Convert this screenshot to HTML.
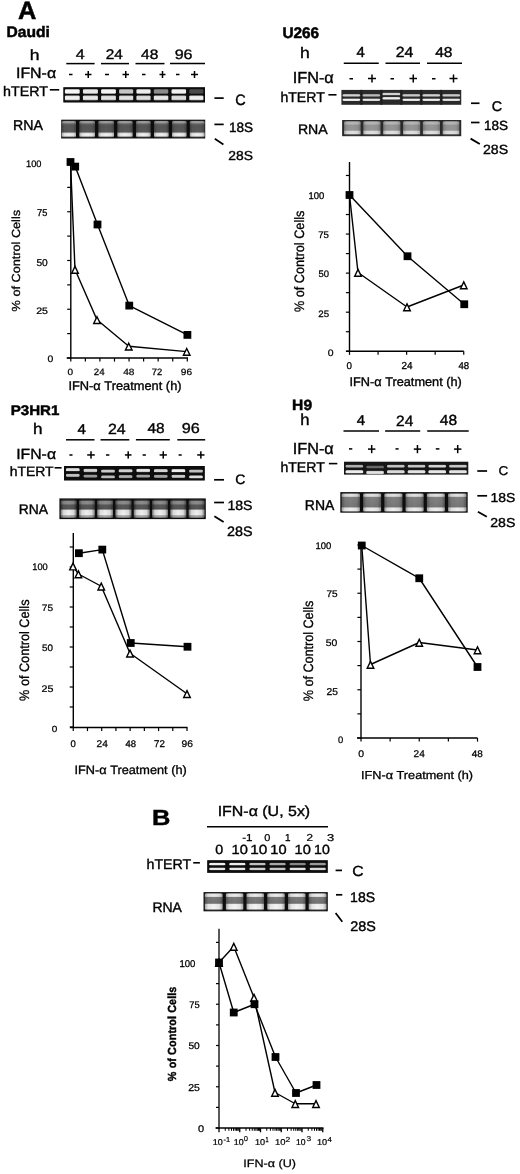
<!DOCTYPE html>
<html><head><meta charset="utf-8"><style>
html,body{margin:0;padding:0;background:#fff;}
svg{display:block;}
text{font-family:"Liberation Sans",sans-serif;fill:#000;stroke:#000;text-rendering:geometricPrecision;}
</style></head><body>
<svg width="520" height="1174" viewBox="0 0 520 1174">
<defs>
<linearGradient id="bandg" x1="0" y1="0" x2="0" y2="1"><stop offset="0" stop-color="#fff" stop-opacity="0.5"/><stop offset="0.25" stop-color="#fff"/><stop offset="0.75" stop-color="#fff"/><stop offset="1" stop-color="#fff" stop-opacity="0.5"/></linearGradient>
<linearGradient id="edgeg" x1="0" y1="0" x2="1" y2="0"><stop offset="0" stop-color="#000" stop-opacity="0.8"/><stop offset="0.18" stop-color="#000" stop-opacity="0.15"/><stop offset="0.5" stop-color="#000" stop-opacity="0"/><stop offset="0.82" stop-color="#000" stop-opacity="0.15"/><stop offset="1" stop-color="#000" stop-opacity="0.8"/></linearGradient>
<filter id="gblur" x="0" y="0" width="520" height="1174" filterUnits="userSpaceOnUse"><feGaussianBlur stdDeviation="0.3"/></filter>
<filter id="bl45" x="-5%" y="-20%" width="110%" height="140%"><feGaussianBlur stdDeviation="0.45"/></filter>
<filter id="bl60" x="-5%" y="-20%" width="110%" height="140%"><feGaussianBlur stdDeviation="0.6"/></filter>
</defs>
<rect width="520" height="1174" fill="#fff"/>
<g filter="url(#gblur)">
<line x1="66.30" y1="63.60" x2="94.60" y2="63.60" stroke="#000" stroke-width="1.5"/>
<line x1="101.00" y1="63.60" x2="129.00" y2="63.60" stroke="#000" stroke-width="1.5"/>
<line x1="135.50" y1="63.60" x2="164.50" y2="63.60" stroke="#000" stroke-width="1.5"/>
<line x1="170.00" y1="63.60" x2="205.00" y2="63.60" stroke="#000" stroke-width="1.5"/>
<rect x="69.00" y="73.75" width="3.50" height="1.5" fill="#000"/>
<rect x="85.00" y="73.75" width="6.50" height="1.5" fill="#000"/>
<rect x="87.50" y="71.00" width="1.5" height="7.00" fill="#000"/>
<rect x="105.00" y="73.75" width="4.00" height="1.5" fill="#000"/>
<rect x="122.50" y="73.75" width="6.50" height="1.5" fill="#000"/>
<rect x="125.00" y="71.00" width="1.5" height="7.00" fill="#000"/>
<rect x="142.00" y="73.75" width="3.50" height="1.5" fill="#000"/>
<rect x="159.50" y="73.75" width="6.00" height="1.5" fill="#000"/>
<rect x="161.75" y="71.00" width="1.5" height="7.00" fill="#000"/>
<rect x="176.00" y="73.75" width="3.50" height="1.5" fill="#000"/>
<rect x="191.00" y="73.75" width="7.00" height="1.5" fill="#000"/>
<rect x="193.75" y="71.00" width="1.5" height="7.00" fill="#000"/>
<line x1="49.80" y1="89.80" x2="59.20" y2="89.80" stroke="#000" stroke-width="1.6"/>
<rect x="63.30" y="87.20" width="141.70" height="15.30" fill="#080808"/>
<g filter="url(#bl45)">
<rect x="64.90" y="88.88" width="14.80" height="5.05" rx="1.6" ry="1.2" fill="url(#bandg)" opacity="0.961"/>
<rect x="64.90" y="95.31" width="14.80" height="5.20" rx="1.6" ry="1.2" fill="url(#bandg)" opacity="0.941"/>
<rect x="82.90" y="88.88" width="15.00" height="5.05" rx="1.6" ry="1.2" fill="url(#bandg)" opacity="0.902"/>
<rect x="82.90" y="95.31" width="15.00" height="5.20" rx="1.6" ry="1.2" fill="url(#bandg)" opacity="0.902"/>
<rect x="101.10" y="88.88" width="14.80" height="5.05" rx="1.6" ry="1.2" fill="url(#bandg)" opacity="0.961"/>
<rect x="101.10" y="95.31" width="14.80" height="5.20" rx="1.6" ry="1.2" fill="url(#bandg)" opacity="0.882"/>
<rect x="119.10" y="88.88" width="14.10" height="5.05" rx="1.6" ry="1.2" fill="url(#bandg)" opacity="0.765"/>
<rect x="119.10" y="95.31" width="14.10" height="5.20" rx="1.6" ry="1.2" fill="url(#bandg)" opacity="0.882"/>
<rect x="136.40" y="88.88" width="14.20" height="5.05" rx="1.6" ry="1.2" fill="url(#bandg)" opacity="0.922"/>
<rect x="136.40" y="95.31" width="14.20" height="5.20" rx="1.6" ry="1.2" fill="url(#bandg)" opacity="0.863"/>
<rect x="153.80" y="88.88" width="14.50" height="5.05" rx="1.6" ry="1.2" fill="url(#bandg)" opacity="0.529"/>
<rect x="153.80" y="95.31" width="14.50" height="5.20" rx="1.6" ry="1.2" fill="url(#bandg)" opacity="0.902"/>
<rect x="171.50" y="88.88" width="14.60" height="5.05" rx="1.6" ry="1.2" fill="url(#bandg)" opacity="0.941"/>
<rect x="171.50" y="95.31" width="14.60" height="5.20" rx="1.6" ry="1.2" fill="url(#bandg)" opacity="0.863"/>
<rect x="189.30" y="88.88" width="14.10" height="5.05" rx="1.6" ry="1.2" fill="url(#bandg)" opacity="0.275"/>
<rect x="189.30" y="95.31" width="14.10" height="5.20" rx="1.6" ry="1.2" fill="url(#bandg)" opacity="0.941"/>
</g>
<line x1="214.40" y1="98.10" x2="223.70" y2="98.10" stroke="#000" stroke-width="1.7"/>
<defs><linearGradient id="rg1" gradientUnits="userSpaceOnUse" x1="0" y1="120.70" x2="0" y2="137.50"><stop offset="0.0060" stop-color="rgb(70,70,70)"/><stop offset="0.0357" stop-color="rgb(155,155,155)"/><stop offset="0.1369" stop-color="rgb(155,155,155)"/><stop offset="0.1845" stop-color="rgb(100,100,100)"/><stop offset="0.3155" stop-color="rgb(85,85,85)"/><stop offset="0.6726" stop-color="rgb(90,90,90)"/><stop offset="0.7440" stop-color="rgb(220,220,220)"/><stop offset="0.7917" stop-color="rgb(240,240,240)"/><stop offset="0.9107" stop-color="rgb(235,235,235)"/><stop offset="0.9583" stop-color="rgb(130,130,130)"/><stop offset="1.0060" stop-color="rgb(70,70,70)"/></linearGradient></defs>
<rect x="61.20" y="119.70" width="144.00" height="18.80" fill="#101010"/>
<g filter="url(#bl45)">
<rect x="61.80" y="120.70" width="14.20" height="16.80" rx="1.5" fill="url(#rg1)" opacity="1"/>
<rect x="61.80" y="120.70" width="14.20" height="16.80" rx="1.5" fill="url(#edgeg)" opacity="0.35"/>
<rect x="79.40" y="120.70" width="15.60" height="16.80" rx="1.5" fill="url(#rg1)" opacity="1"/>
<rect x="79.40" y="120.70" width="15.60" height="16.80" rx="1.5" fill="url(#edgeg)" opacity="0.35"/>
<rect x="98.40" y="120.70" width="15.60" height="16.80" rx="1.5" fill="url(#rg1)" opacity="1"/>
<rect x="98.40" y="120.70" width="15.60" height="16.80" rx="1.5" fill="url(#edgeg)" opacity="0.35"/>
<rect x="117.40" y="120.70" width="15.20" height="16.80" rx="1.5" fill="url(#rg1)" opacity="1"/>
<rect x="117.40" y="120.70" width="15.20" height="16.80" rx="1.5" fill="url(#edgeg)" opacity="0.35"/>
<rect x="136.00" y="120.70" width="14.60" height="16.80" rx="1.5" fill="url(#rg1)" opacity="1"/>
<rect x="136.00" y="120.70" width="14.60" height="16.80" rx="1.5" fill="url(#edgeg)" opacity="0.35"/>
<rect x="154.00" y="120.70" width="14.60" height="16.80" rx="1.5" fill="url(#rg1)" opacity="1"/>
<rect x="154.00" y="120.70" width="14.60" height="16.80" rx="1.5" fill="url(#edgeg)" opacity="0.35"/>
<rect x="172.00" y="120.70" width="14.50" height="16.80" rx="1.5" fill="url(#rg1)" opacity="1"/>
<rect x="172.00" y="120.70" width="14.50" height="16.80" rx="1.5" fill="url(#edgeg)" opacity="0.35"/>
<rect x="189.90" y="120.70" width="14.70" height="16.80" rx="1.5" fill="url(#rg1)" opacity="1"/>
<rect x="189.90" y="120.70" width="14.70" height="16.80" rx="1.5" fill="url(#edgeg)" opacity="0.35"/>
</g>
<line x1="214.40" y1="124.40" x2="223.70" y2="124.40" stroke="#000" stroke-width="1.7"/>
<line x1="214.80" y1="138.80" x2="223.40" y2="144.40" stroke="#000" stroke-width="1.8"/>
<line x1="70.80" y1="160.00" x2="70.80" y2="358.60" stroke="#000" stroke-width="1.4"/>
<line x1="66.70" y1="358.00" x2="188.00" y2="358.00" stroke="#000" stroke-width="1.4"/>
<line x1="67.20" y1="358.00" x2="70.80" y2="358.00" stroke="#000" stroke-width="1.2"/>
<line x1="67.20" y1="333.62" x2="70.80" y2="333.62" stroke="#000" stroke-width="1.2"/>
<line x1="67.20" y1="309.25" x2="70.80" y2="309.25" stroke="#000" stroke-width="1.2"/>
<line x1="67.20" y1="284.88" x2="70.80" y2="284.88" stroke="#000" stroke-width="1.2"/>
<line x1="67.20" y1="260.50" x2="70.80" y2="260.50" stroke="#000" stroke-width="1.2"/>
<line x1="67.20" y1="236.12" x2="70.80" y2="236.12" stroke="#000" stroke-width="1.2"/>
<line x1="67.20" y1="211.75" x2="70.80" y2="211.75" stroke="#000" stroke-width="1.2"/>
<line x1="67.20" y1="187.38" x2="70.80" y2="187.38" stroke="#000" stroke-width="1.2"/>
<line x1="67.20" y1="163.00" x2="70.80" y2="163.00" stroke="#000" stroke-width="1.2"/>
<line x1="70.80" y1="358.00" x2="70.80" y2="361.60" stroke="#000" stroke-width="1.2"/>
<line x1="85.36" y1="358.00" x2="85.36" y2="361.60" stroke="#000" stroke-width="1.2"/>
<line x1="99.92" y1="358.00" x2="99.92" y2="361.60" stroke="#000" stroke-width="1.2"/>
<line x1="114.49" y1="358.00" x2="114.49" y2="361.60" stroke="#000" stroke-width="1.2"/>
<line x1="129.05" y1="358.00" x2="129.05" y2="361.60" stroke="#000" stroke-width="1.2"/>
<line x1="143.61" y1="358.00" x2="143.61" y2="361.60" stroke="#000" stroke-width="1.2"/>
<line x1="158.17" y1="358.00" x2="158.17" y2="361.60" stroke="#000" stroke-width="1.2"/>
<line x1="172.73" y1="358.00" x2="172.73" y2="361.60" stroke="#000" stroke-width="1.2"/>
<line x1="187.30" y1="358.00" x2="187.30" y2="361.60" stroke="#000" stroke-width="1.2"/>
<polyline fill="none" stroke="#000" stroke-width="1.4" stroke-linejoin="round" points="70.50,162.00 75.20,166.60 97.50,224.50 129.25,305.60 187.40,334.90"/>
<polyline fill="none" stroke="#000" stroke-width="1.4" stroke-linejoin="round" points="70.50,162.00 75.00,269.50 97.00,319.80 128.75,346.30 186.70,351.60"/>
<path d="M75.00,266.40 L78.30,273.20 L71.70,273.20 Z" fill="#fff" stroke="#000" stroke-width="1.4" stroke-linejoin="miter"/>
<path d="M97.00,316.70 L100.30,323.50 L93.70,323.50 Z" fill="#fff" stroke="#000" stroke-width="1.4" stroke-linejoin="miter"/>
<path d="M128.75,343.20 L132.05,350.00 L125.45,350.00 Z" fill="#fff" stroke="#000" stroke-width="1.4" stroke-linejoin="miter"/>
<path d="M186.70,348.50 L190.00,355.30 L183.40,355.30 Z" fill="#fff" stroke="#000" stroke-width="1.4" stroke-linejoin="miter"/>
<rect x="66.60" y="158.10" width="7.8" height="7.8" fill="#000"/>
<rect x="71.30" y="162.70" width="7.8" height="7.8" fill="#000"/>
<rect x="93.60" y="220.60" width="7.8" height="7.8" fill="#000"/>
<rect x="125.35" y="301.70" width="7.8" height="7.8" fill="#000"/>
<rect x="183.50" y="331.00" width="7.8" height="7.8" fill="#000"/>
<line x1="343.75" y1="63.20" x2="378.75" y2="63.20" stroke="#000" stroke-width="1.5"/>
<line x1="385.50" y1="63.20" x2="420.00" y2="63.20" stroke="#000" stroke-width="1.5"/>
<line x1="427.00" y1="63.20" x2="462.00" y2="63.20" stroke="#000" stroke-width="1.5"/>
<rect x="349.50" y="78.00" width="3.50" height="1.5" fill="#000"/>
<rect x="368.00" y="77.75" width="8.00" height="1.5" fill="#000"/>
<rect x="371.25" y="74.50" width="1.5" height="8.00" fill="#000"/>
<rect x="390.50" y="78.00" width="3.50" height="1.5" fill="#000"/>
<rect x="409.50" y="77.75" width="7.50" height="1.5" fill="#000"/>
<rect x="412.50" y="74.50" width="1.5" height="8.00" fill="#000"/>
<rect x="432.00" y="78.00" width="3.50" height="1.5" fill="#000"/>
<rect x="449.50" y="77.75" width="8.00" height="1.5" fill="#000"/>
<rect x="452.75" y="74.50" width="1.5" height="8.00" fill="#000"/>
<line x1="328.40" y1="94.80" x2="336.50" y2="94.80" stroke="#000" stroke-width="1.6"/>
<rect x="341.40" y="89.90" width="119.85" height="14.90" fill="#2c2c2c"/>
<rect x="360.48" y="89.90" width="1.8" height="14.90" fill="#1c1c1c"/>
<rect x="380.45" y="89.90" width="1.8" height="14.90" fill="#1c1c1c"/>
<rect x="400.43" y="89.90" width="1.8" height="14.90" fill="#1c1c1c"/>
<rect x="420.40" y="89.90" width="1.8" height="14.90" fill="#1c1c1c"/>
<rect x="440.38" y="89.90" width="1.8" height="14.90" fill="#1c1c1c"/>
<g filter="url(#bl45)">
<rect x="342.60" y="94.07" width="17.58" height="2.68" rx="1.6" ry="1.2" fill="url(#bandg)" opacity="0.784"/>
<rect x="342.60" y="98.39" width="17.58" height="2.68" rx="1.6" ry="1.2" fill="url(#bandg)" opacity="0.941"/>
<rect x="362.57" y="94.07" width="17.57" height="2.68" rx="1.6" ry="1.2" fill="url(#bandg)" opacity="0.667"/>
<rect x="362.57" y="98.39" width="17.57" height="2.68" rx="1.6" ry="1.2" fill="url(#bandg)" opacity="0.882"/>
<rect x="382.55" y="92.67" width="17.58" height="2.68" rx="1.6" ry="1.2" fill="url(#bandg)" opacity="0.784"/>
<rect x="382.55" y="96.99" width="17.58" height="2.68" rx="1.6" ry="1.2" fill="url(#bandg)" opacity="0.922"/>
<rect x="402.52" y="94.07" width="17.58" height="2.68" rx="1.6" ry="1.2" fill="url(#bandg)" opacity="0.745"/>
<rect x="402.52" y="98.39" width="17.58" height="2.68" rx="1.6" ry="1.2" fill="url(#bandg)" opacity="0.922"/>
<rect x="422.50" y="94.07" width="17.57" height="2.68" rx="1.6" ry="1.2" fill="url(#bandg)" opacity="0.784"/>
<rect x="422.50" y="98.39" width="17.57" height="2.68" rx="1.6" ry="1.2" fill="url(#bandg)" opacity="0.922"/>
<rect x="442.47" y="94.07" width="17.58" height="2.68" rx="1.6" ry="1.2" fill="url(#bandg)" opacity="0.745"/>
<rect x="442.47" y="98.39" width="17.58" height="2.68" rx="1.6" ry="1.2" fill="url(#bandg)" opacity="0.882"/>
</g>
<line x1="471.00" y1="103.25" x2="479.50" y2="103.25" stroke="#000" stroke-width="1.7"/>
<defs><linearGradient id="rg2" gradientUnits="userSpaceOnUse" x1="0" y1="121.00" x2="0" y2="135.20"><stop offset="0.0000" stop-color="rgb(80,80,80)"/><stop offset="0.0563" stop-color="rgb(180,180,180)"/><stop offset="0.2254" stop-color="rgb(185,185,185)"/><stop offset="0.2676" stop-color="rgb(150,150,150)"/><stop offset="0.6549" stop-color="rgb(150,150,150)"/><stop offset="0.7042" stop-color="rgb(220,220,220)"/><stop offset="0.8873" stop-color="rgb(225,225,225)"/><stop offset="0.9437" stop-color="rgb(110,110,110)"/><stop offset="1.0211" stop-color="rgb(80,80,80)"/></linearGradient></defs>
<rect x="342.10" y="120.00" width="119.15" height="16.20" fill="#2c2c2c"/>
<g filter="url(#bl45)">
<rect x="344.10" y="121.00" width="16.46" height="14.20" rx="1.5" fill="url(#rg2)" opacity="1"/>
<rect x="344.10" y="121.00" width="16.46" height="14.20" rx="1.5" fill="url(#edgeg)" opacity="0.3"/>
<rect x="363.36" y="121.00" width="17.06" height="14.20" rx="1.5" fill="url(#rg2)" opacity="1"/>
<rect x="363.36" y="121.00" width="17.06" height="14.20" rx="1.5" fill="url(#edgeg)" opacity="0.3"/>
<rect x="383.22" y="121.00" width="17.06" height="14.20" rx="1.5" fill="url(#rg2)" opacity="1"/>
<rect x="383.22" y="121.00" width="17.06" height="14.20" rx="1.5" fill="url(#edgeg)" opacity="0.3"/>
<rect x="403.07" y="121.00" width="17.06" height="14.20" rx="1.5" fill="url(#rg2)" opacity="1"/>
<rect x="403.07" y="121.00" width="17.06" height="14.20" rx="1.5" fill="url(#edgeg)" opacity="0.3"/>
<rect x="422.93" y="121.00" width="17.06" height="14.20" rx="1.5" fill="url(#rg2)" opacity="1"/>
<rect x="422.93" y="121.00" width="17.06" height="14.20" rx="1.5" fill="url(#edgeg)" opacity="0.3"/>
<rect x="442.79" y="121.00" width="16.46" height="14.20" rx="1.5" fill="url(#rg2)" opacity="1"/>
<rect x="442.79" y="121.00" width="16.46" height="14.20" rx="1.5" fill="url(#edgeg)" opacity="0.3"/>
</g>
<line x1="471.00" y1="122.50" x2="479.50" y2="122.50" stroke="#000" stroke-width="1.7"/>
<line x1="470.60" y1="138.60" x2="479.80" y2="144.00" stroke="#000" stroke-width="1.8"/>
<line x1="349.50" y1="162.00" x2="349.50" y2="351.85" stroke="#000" stroke-width="1.4"/>
<line x1="346.00" y1="351.25" x2="463.75" y2="351.25" stroke="#000" stroke-width="1.4"/>
<line x1="345.90" y1="351.25" x2="349.50" y2="351.25" stroke="#000" stroke-width="1.2"/>
<line x1="345.90" y1="331.72" x2="349.50" y2="331.72" stroke="#000" stroke-width="1.2"/>
<line x1="345.90" y1="312.19" x2="349.50" y2="312.19" stroke="#000" stroke-width="1.2"/>
<line x1="345.90" y1="292.66" x2="349.50" y2="292.66" stroke="#000" stroke-width="1.2"/>
<line x1="345.90" y1="273.12" x2="349.50" y2="273.12" stroke="#000" stroke-width="1.2"/>
<line x1="345.90" y1="253.59" x2="349.50" y2="253.59" stroke="#000" stroke-width="1.2"/>
<line x1="345.90" y1="234.06" x2="349.50" y2="234.06" stroke="#000" stroke-width="1.2"/>
<line x1="345.90" y1="214.53" x2="349.50" y2="214.53" stroke="#000" stroke-width="1.2"/>
<line x1="345.90" y1="195.00" x2="349.50" y2="195.00" stroke="#000" stroke-width="1.2"/>
<line x1="345.90" y1="175.47" x2="349.50" y2="175.47" stroke="#000" stroke-width="1.2"/>
<line x1="349.50" y1="351.25" x2="349.50" y2="354.85" stroke="#000" stroke-width="1.2"/>
<line x1="378.06" y1="351.25" x2="378.06" y2="354.85" stroke="#000" stroke-width="1.2"/>
<line x1="406.62" y1="351.25" x2="406.62" y2="354.85" stroke="#000" stroke-width="1.2"/>
<line x1="435.18" y1="351.25" x2="435.18" y2="354.85" stroke="#000" stroke-width="1.2"/>
<line x1="463.74" y1="351.25" x2="463.74" y2="354.85" stroke="#000" stroke-width="1.2"/>
<polyline fill="none" stroke="#000" stroke-width="1.4" stroke-linejoin="round" points="349.50,195.00 407.50,256.25 464.25,304.25"/>
<polyline fill="none" stroke="#000" stroke-width="1.4" stroke-linejoin="round" points="349.50,195.00 358.00,272.50 407.00,307.00 463.75,285.00"/>
<path d="M358.00,269.40 L361.30,276.20 L354.70,276.20 Z" fill="#fff" stroke="#000" stroke-width="1.4" stroke-linejoin="miter"/>
<path d="M407.00,303.90 L410.30,310.70 L403.70,310.70 Z" fill="#fff" stroke="#000" stroke-width="1.4" stroke-linejoin="miter"/>
<path d="M463.75,281.90 L467.05,288.70 L460.45,288.70 Z" fill="#fff" stroke="#000" stroke-width="1.4" stroke-linejoin="miter"/>
<rect x="345.60" y="191.10" width="7.8" height="7.8" fill="#000"/>
<rect x="403.60" y="252.35" width="7.8" height="7.8" fill="#000"/>
<rect x="460.35" y="300.35" width="7.8" height="7.8" fill="#000"/>
<line x1="66.00" y1="439.80" x2="94.50" y2="439.80" stroke="#000" stroke-width="1.5"/>
<line x1="100.50" y1="439.80" x2="129.30" y2="439.80" stroke="#000" stroke-width="1.5"/>
<line x1="135.90" y1="439.80" x2="169.80" y2="439.80" stroke="#000" stroke-width="1.5"/>
<line x1="177.30" y1="439.80" x2="205.20" y2="439.80" stroke="#000" stroke-width="1.5"/>
<rect x="69.40" y="454.25" width="3.10" height="1.5" fill="#000"/>
<rect x="87.20" y="454.20" width="7.60" height="1.5" fill="#000"/>
<rect x="90.25" y="451.30" width="1.5" height="7.30" fill="#000"/>
<rect x="106.00" y="454.25" width="3.40" height="1.5" fill="#000"/>
<rect x="124.90" y="454.20" width="6.60" height="1.5" fill="#000"/>
<rect x="127.45" y="451.30" width="1.5" height="7.30" fill="#000"/>
<rect x="142.60" y="454.25" width="3.30" height="1.5" fill="#000"/>
<rect x="159.60" y="454.20" width="7.30" height="1.5" fill="#000"/>
<rect x="162.50" y="451.30" width="1.5" height="7.30" fill="#000"/>
<rect x="178.60" y="454.25" width="3.10" height="1.5" fill="#000"/>
<rect x="197.20" y="454.20" width="7.30" height="1.5" fill="#000"/>
<rect x="200.10" y="451.30" width="1.5" height="7.30" fill="#000"/>
<line x1="54.60" y1="467.80" x2="61.60" y2="467.80" stroke="#000" stroke-width="1.6"/>
<rect x="64.00" y="466.00" width="140.80" height="14.50" fill="#080808"/>
<g filter="url(#bl45)">
<rect x="66.00" y="467.88" width="13.60" height="3.48" rx="1.6" ry="1.2" fill="url(#bandg)" opacity="0.863"/>
<rect x="66.00" y="473.69" width="13.60" height="3.33" rx="1.6" ry="1.2" fill="url(#bandg)" opacity="0.745"/>
<rect x="83.60" y="468.69" width="13.60" height="3.48" rx="1.6" ry="1.2" fill="url(#bandg)" opacity="0.824"/>
<rect x="83.60" y="474.49" width="13.60" height="3.33" rx="1.6" ry="1.2" fill="url(#bandg)" opacity="0.588"/>
<rect x="101.20" y="469.38" width="13.60" height="3.48" rx="1.6" ry="1.2" fill="url(#bandg)" opacity="0.784"/>
<rect x="101.20" y="475.19" width="13.60" height="3.33" rx="1.6" ry="1.2" fill="url(#bandg)" opacity="0.725"/>
<rect x="118.80" y="469.08" width="13.60" height="3.48" rx="1.6" ry="1.2" fill="url(#bandg)" opacity="0.804"/>
<rect x="118.80" y="474.88" width="13.60" height="3.33" rx="1.6" ry="1.2" fill="url(#bandg)" opacity="0.667"/>
<rect x="136.40" y="468.69" width="13.60" height="3.48" rx="1.6" ry="1.2" fill="url(#bandg)" opacity="0.902"/>
<rect x="136.40" y="474.49" width="13.60" height="3.33" rx="1.6" ry="1.2" fill="url(#bandg)" opacity="0.627"/>
<rect x="154.00" y="468.88" width="13.60" height="3.48" rx="1.6" ry="1.2" fill="url(#bandg)" opacity="0.824"/>
<rect x="154.00" y="474.69" width="13.60" height="3.33" rx="1.6" ry="1.2" fill="url(#bandg)" opacity="0.627"/>
<rect x="171.60" y="468.88" width="13.60" height="3.48" rx="1.6" ry="1.2" fill="url(#bandg)" opacity="0.922"/>
<rect x="171.60" y="474.69" width="13.60" height="3.33" rx="1.6" ry="1.2" fill="url(#bandg)" opacity="0.784"/>
<rect x="189.20" y="469.38" width="13.60" height="3.48" rx="1.6" ry="1.2" fill="url(#bandg)" opacity="0.745"/>
<rect x="189.20" y="475.19" width="13.60" height="3.33" rx="1.6" ry="1.2" fill="url(#bandg)" opacity="0.863"/>
</g>
<line x1="214.10" y1="479.80" x2="224.00" y2="479.80" stroke="#000" stroke-width="1.7"/>
<defs><linearGradient id="rg3" gradientUnits="userSpaceOnUse" x1="0" y1="499.40" x2="0" y2="518.10"><stop offset="0.0428" stop-color="rgb(50,50,50)"/><stop offset="0.1070" stop-color="rgb(140,140,140)"/><stop offset="0.2353" stop-color="rgb(140,140,140)"/><stop offset="0.2995" stop-color="rgb(90,90,90)"/><stop offset="0.5134" stop-color="rgb(85,85,85)"/><stop offset="0.5775" stop-color="rgb(235,235,235)"/><stop offset="0.8128" stop-color="rgb(240,240,240)"/><stop offset="0.8663" stop-color="rgb(175,175,175)"/><stop offset="0.9519" stop-color="rgb(160,160,160)"/><stop offset="0.9947" stop-color="rgb(60,60,60)"/></linearGradient></defs>
<rect x="59.40" y="498.40" width="146.40" height="20.70" fill="#101010"/>
<g filter="url(#bl45)">
<rect x="60.80" y="499.40" width="15.60" height="18.70" rx="1.5" fill="url(#rg3)" opacity="1"/>
<rect x="60.80" y="499.40" width="15.60" height="18.70" rx="1.5" fill="url(#edgeg)" opacity="0.6"/>
<rect x="79.00" y="499.40" width="15.70" height="18.70" rx="1.5" fill="url(#rg3)" opacity="1"/>
<rect x="79.00" y="499.40" width="15.70" height="18.70" rx="1.5" fill="url(#edgeg)" opacity="0.6"/>
<rect x="97.30" y="499.40" width="15.70" height="18.70" rx="1.5" fill="url(#rg3)" opacity="1"/>
<rect x="97.30" y="499.40" width="15.70" height="18.70" rx="1.5" fill="url(#edgeg)" opacity="0.6"/>
<rect x="115.60" y="499.40" width="15.70" height="18.70" rx="1.5" fill="url(#rg3)" opacity="1"/>
<rect x="115.60" y="499.40" width="15.70" height="18.70" rx="1.5" fill="url(#edgeg)" opacity="0.6"/>
<rect x="133.90" y="499.40" width="15.70" height="18.70" rx="1.5" fill="url(#rg3)" opacity="1"/>
<rect x="133.90" y="499.40" width="15.70" height="18.70" rx="1.5" fill="url(#edgeg)" opacity="0.6"/>
<rect x="152.20" y="499.40" width="15.70" height="18.70" rx="1.5" fill="url(#rg3)" opacity="1"/>
<rect x="152.20" y="499.40" width="15.70" height="18.70" rx="1.5" fill="url(#edgeg)" opacity="0.6"/>
<rect x="170.50" y="499.40" width="15.70" height="18.70" rx="1.5" fill="url(#rg3)" opacity="1"/>
<rect x="170.50" y="499.40" width="15.70" height="18.70" rx="1.5" fill="url(#edgeg)" opacity="0.6"/>
<rect x="188.80" y="499.40" width="15.60" height="18.70" rx="1.5" fill="url(#rg3)" opacity="1"/>
<rect x="188.80" y="499.40" width="15.60" height="18.70" rx="1.5" fill="url(#edgeg)" opacity="0.6"/>
</g>
<line x1="214.10" y1="502.50" x2="224.00" y2="502.50" stroke="#000" stroke-width="1.7"/>
<line x1="214.40" y1="516.30" x2="223.60" y2="522.10" stroke="#000" stroke-width="1.8"/>
<line x1="73.30" y1="532.90" x2="73.30" y2="728.10" stroke="#000" stroke-width="1.4"/>
<line x1="70.00" y1="727.50" x2="187.50" y2="727.50" stroke="#000" stroke-width="1.4"/>
<line x1="69.70" y1="727.00" x2="73.30" y2="727.00" stroke="#000" stroke-width="1.2"/>
<line x1="69.70" y1="707.00" x2="73.30" y2="707.00" stroke="#000" stroke-width="1.2"/>
<line x1="69.70" y1="687.00" x2="73.30" y2="687.00" stroke="#000" stroke-width="1.2"/>
<line x1="69.70" y1="667.00" x2="73.30" y2="667.00" stroke="#000" stroke-width="1.2"/>
<line x1="69.70" y1="647.00" x2="73.30" y2="647.00" stroke="#000" stroke-width="1.2"/>
<line x1="69.70" y1="627.00" x2="73.30" y2="627.00" stroke="#000" stroke-width="1.2"/>
<line x1="69.70" y1="607.00" x2="73.30" y2="607.00" stroke="#000" stroke-width="1.2"/>
<line x1="69.70" y1="587.00" x2="73.30" y2="587.00" stroke="#000" stroke-width="1.2"/>
<line x1="69.70" y1="567.00" x2="73.30" y2="567.00" stroke="#000" stroke-width="1.2"/>
<line x1="69.70" y1="547.00" x2="73.30" y2="547.00" stroke="#000" stroke-width="1.2"/>
<line x1="73.25" y1="727.50" x2="73.25" y2="731.10" stroke="#000" stroke-width="1.2"/>
<line x1="87.47" y1="727.50" x2="87.47" y2="731.10" stroke="#000" stroke-width="1.2"/>
<line x1="101.69" y1="727.50" x2="101.69" y2="731.10" stroke="#000" stroke-width="1.2"/>
<line x1="115.91" y1="727.50" x2="115.91" y2="731.10" stroke="#000" stroke-width="1.2"/>
<line x1="130.13" y1="727.50" x2="130.13" y2="731.10" stroke="#000" stroke-width="1.2"/>
<line x1="144.35" y1="727.50" x2="144.35" y2="731.10" stroke="#000" stroke-width="1.2"/>
<line x1="158.57" y1="727.50" x2="158.57" y2="731.10" stroke="#000" stroke-width="1.2"/>
<line x1="172.79" y1="727.50" x2="172.79" y2="731.10" stroke="#000" stroke-width="1.2"/>
<line x1="187.01" y1="727.50" x2="187.01" y2="731.10" stroke="#000" stroke-width="1.2"/>
<polyline fill="none" stroke="#000" stroke-width="1.4" stroke-linejoin="round" points="78.90,553.20 102.30,549.60 130.75,643.00 187.50,646.75"/>
<polyline fill="none" stroke="#000" stroke-width="1.4" stroke-linejoin="round" points="73.00,566.20 78.40,574.00 101.25,586.25 130.00,653.25 187.00,693.75"/>
<path d="M73.00,563.10 L76.30,569.90 L69.70,569.90 Z" fill="#fff" stroke="#000" stroke-width="1.4" stroke-linejoin="miter"/>
<path d="M78.40,570.90 L81.70,577.70 L75.10,577.70 Z" fill="#fff" stroke="#000" stroke-width="1.4" stroke-linejoin="miter"/>
<path d="M101.25,583.15 L104.55,589.95 L97.95,589.95 Z" fill="#fff" stroke="#000" stroke-width="1.4" stroke-linejoin="miter"/>
<path d="M130.00,650.15 L133.30,656.95 L126.70,656.95 Z" fill="#fff" stroke="#000" stroke-width="1.4" stroke-linejoin="miter"/>
<path d="M187.00,690.65 L190.30,697.45 L183.70,697.45 Z" fill="#fff" stroke="#000" stroke-width="1.4" stroke-linejoin="miter"/>
<rect x="75.00" y="549.30" width="7.8" height="7.8" fill="#000"/>
<rect x="98.40" y="545.70" width="7.8" height="7.8" fill="#000"/>
<rect x="126.85" y="639.10" width="7.8" height="7.8" fill="#000"/>
<rect x="183.60" y="642.85" width="7.8" height="7.8" fill="#000"/>
<line x1="343.50" y1="430.90" x2="379.00" y2="430.90" stroke="#000" stroke-width="1.5"/>
<line x1="385.10" y1="430.90" x2="420.20" y2="430.90" stroke="#000" stroke-width="1.5"/>
<line x1="427.20" y1="430.90" x2="468.70" y2="430.90" stroke="#000" stroke-width="1.5"/>
<rect x="349.00" y="448.15" width="3.30" height="1.5" fill="#000"/>
<rect x="368.00" y="448.35" width="7.40" height="1.5" fill="#000"/>
<rect x="370.95" y="445.00" width="1.5" height="8.20" fill="#000"/>
<rect x="395.50" y="448.15" width="3.10" height="1.5" fill="#000"/>
<rect x="413.80" y="448.35" width="7.30" height="1.5" fill="#000"/>
<rect x="416.70" y="445.00" width="1.5" height="8.20" fill="#000"/>
<rect x="435.80" y="448.15" width="3.60" height="1.5" fill="#000"/>
<rect x="454.00" y="448.35" width="7.40" height="1.5" fill="#000"/>
<rect x="456.95" y="445.00" width="1.5" height="8.20" fill="#000"/>
<line x1="328.90" y1="463.60" x2="337.30" y2="463.60" stroke="#000" stroke-width="1.6"/>
<rect x="344.00" y="461.70" width="124.30" height="12.90" fill="#141414"/>
<g filter="url(#bl45)">
<rect x="345.60" y="464.80" width="17.52" height="2.97" rx="1.6" ry="1.2" fill="url(#bandg)" opacity="0.667"/>
<rect x="345.60" y="469.96" width="17.52" height="3.48" rx="1.6" ry="1.2" fill="url(#bandg)" opacity="0.922"/>
<rect x="366.32" y="465.60" width="17.52" height="2.97" rx="1.6" ry="1.2" fill="url(#bandg)" opacity="0.353"/>
<rect x="366.32" y="470.76" width="17.52" height="3.48" rx="1.6" ry="1.2" fill="url(#bandg)" opacity="0.882"/>
<rect x="387.03" y="464.80" width="17.52" height="2.97" rx="1.6" ry="1.2" fill="url(#bandg)" opacity="0.745"/>
<rect x="387.03" y="469.96" width="17.52" height="3.48" rx="1.6" ry="1.2" fill="url(#bandg)" opacity="0.843"/>
<rect x="407.75" y="464.80" width="17.52" height="2.97" rx="1.6" ry="1.2" fill="url(#bandg)" opacity="0.765"/>
<rect x="407.75" y="469.96" width="17.52" height="3.48" rx="1.6" ry="1.2" fill="url(#bandg)" opacity="0.882"/>
<rect x="428.47" y="464.80" width="17.52" height="2.97" rx="1.6" ry="1.2" fill="url(#bandg)" opacity="0.824"/>
<rect x="428.47" y="469.96" width="17.52" height="3.48" rx="1.6" ry="1.2" fill="url(#bandg)" opacity="0.902"/>
<rect x="449.18" y="464.80" width="17.52" height="2.97" rx="1.6" ry="1.2" fill="url(#bandg)" opacity="0.765"/>
<rect x="449.18" y="469.96" width="17.52" height="3.48" rx="1.6" ry="1.2" fill="url(#bandg)" opacity="0.882"/>
</g>
<line x1="477.30" y1="471.00" x2="487.10" y2="471.00" stroke="#000" stroke-width="1.7"/>
<defs><linearGradient id="rg4" gradientUnits="userSpaceOnUse" x1="0" y1="493.10" x2="0" y2="511.70"><stop offset="0.0108" stop-color="rgb(80,80,80)"/><stop offset="0.0591" stop-color="rgb(225,225,225)"/><stop offset="0.1720" stop-color="rgb(225,225,225)"/><stop offset="0.2258" stop-color="rgb(130,130,130)"/><stop offset="0.7473" stop-color="rgb(120,120,120)"/><stop offset="0.7957" stop-color="rgb(235,235,235)"/><stop offset="0.9731" stop-color="rgb(240,240,240)"/><stop offset="1.0161" stop-color="rgb(90,90,90)"/></linearGradient></defs>
<rect x="340.30" y="492.10" width="127.40" height="20.60" fill="#101010"/>
<g filter="url(#bl45)">
<rect x="341.70" y="493.10" width="18.13" height="18.60" rx="1.5" fill="url(#rg4)" opacity="1"/>
<rect x="341.70" y="493.10" width="18.13" height="18.60" rx="1.5" fill="url(#edgeg)" opacity="0.4"/>
<rect x="363.23" y="493.10" width="17.83" height="18.60" rx="1.5" fill="url(#rg4)" opacity="1"/>
<rect x="363.23" y="493.10" width="17.83" height="18.60" rx="1.5" fill="url(#edgeg)" opacity="0.4"/>
<rect x="384.47" y="493.10" width="17.83" height="18.60" rx="1.5" fill="url(#rg4)" opacity="1"/>
<rect x="384.47" y="493.10" width="17.83" height="18.60" rx="1.5" fill="url(#edgeg)" opacity="0.4"/>
<rect x="405.70" y="493.10" width="17.83" height="18.60" rx="1.5" fill="url(#rg4)" opacity="1"/>
<rect x="405.70" y="493.10" width="17.83" height="18.60" rx="1.5" fill="url(#edgeg)" opacity="0.4"/>
<rect x="426.93" y="493.10" width="17.83" height="18.60" rx="1.5" fill="url(#rg4)" opacity="1"/>
<rect x="426.93" y="493.10" width="17.83" height="18.60" rx="1.5" fill="url(#edgeg)" opacity="0.4"/>
<rect x="448.17" y="493.10" width="18.13" height="18.60" rx="1.5" fill="url(#rg4)" opacity="1"/>
<rect x="448.17" y="493.10" width="18.13" height="18.60" rx="1.5" fill="url(#edgeg)" opacity="0.4"/>
</g>
<line x1="477.30" y1="495.80" x2="487.10" y2="495.80" stroke="#000" stroke-width="1.7"/>
<line x1="477.90" y1="511.70" x2="486.80" y2="516.70" stroke="#000" stroke-width="1.8"/>
<line x1="361.00" y1="542.50" x2="361.00" y2="738.60" stroke="#000" stroke-width="1.4"/>
<line x1="357.00" y1="738.00" x2="477.50" y2="738.00" stroke="#000" stroke-width="1.4"/>
<line x1="357.40" y1="738.00" x2="361.00" y2="738.00" stroke="#000" stroke-width="1.2"/>
<line x1="357.40" y1="713.88" x2="361.00" y2="713.88" stroke="#000" stroke-width="1.2"/>
<line x1="357.40" y1="689.75" x2="361.00" y2="689.75" stroke="#000" stroke-width="1.2"/>
<line x1="357.40" y1="665.62" x2="361.00" y2="665.62" stroke="#000" stroke-width="1.2"/>
<line x1="357.40" y1="641.50" x2="361.00" y2="641.50" stroke="#000" stroke-width="1.2"/>
<line x1="357.40" y1="617.38" x2="361.00" y2="617.38" stroke="#000" stroke-width="1.2"/>
<line x1="357.40" y1="593.25" x2="361.00" y2="593.25" stroke="#000" stroke-width="1.2"/>
<line x1="357.40" y1="569.12" x2="361.00" y2="569.12" stroke="#000" stroke-width="1.2"/>
<line x1="357.40" y1="545.00" x2="361.00" y2="545.00" stroke="#000" stroke-width="1.2"/>
<line x1="361.00" y1="738.00" x2="361.00" y2="741.60" stroke="#000" stroke-width="1.2"/>
<line x1="390.12" y1="738.00" x2="390.12" y2="741.60" stroke="#000" stroke-width="1.2"/>
<line x1="419.25" y1="738.00" x2="419.25" y2="741.60" stroke="#000" stroke-width="1.2"/>
<line x1="448.37" y1="738.00" x2="448.37" y2="741.60" stroke="#000" stroke-width="1.2"/>
<line x1="477.50" y1="738.00" x2="477.50" y2="741.60" stroke="#000" stroke-width="1.2"/>
<polyline fill="none" stroke="#000" stroke-width="1.4" stroke-linejoin="round" points="361.75,545.50 419.25,578.25 477.50,667.00"/>
<polyline fill="none" stroke="#000" stroke-width="1.4" stroke-linejoin="round" points="361.75,545.50 370.50,664.50 419.25,642.50 477.50,650.00"/>
<path d="M370.50,661.40 L373.80,668.20 L367.20,668.20 Z" fill="#fff" stroke="#000" stroke-width="1.4" stroke-linejoin="miter"/>
<path d="M419.25,639.40 L422.55,646.20 L415.95,646.20 Z" fill="#fff" stroke="#000" stroke-width="1.4" stroke-linejoin="miter"/>
<path d="M477.50,646.90 L480.80,653.70 L474.20,653.70 Z" fill="#fff" stroke="#000" stroke-width="1.4" stroke-linejoin="miter"/>
<rect x="357.85" y="541.60" width="7.8" height="7.8" fill="#000"/>
<rect x="415.35" y="574.35" width="7.8" height="7.8" fill="#000"/>
<rect x="473.60" y="663.10" width="7.8" height="7.8" fill="#000"/>
<line x1="207.00" y1="826.80" x2="328.00" y2="826.80" stroke="#000" stroke-width="1.5"/>
<line x1="193.20" y1="862.80" x2="199.90" y2="862.80" stroke="#000" stroke-width="1.6"/>
<rect x="207.20" y="860.20" width="120.60" height="12.70" fill="#080808"/>
<g filter="url(#bl45)">
<rect x="209.20" y="862.74" width="16.10" height="2.79" rx="1.6" ry="1.2" fill="url(#bandg)" opacity="0.941"/>
<rect x="209.20" y="867.44" width="16.10" height="2.79" rx="1.6" ry="1.2" fill="url(#bandg)" opacity="0.902"/>
<rect x="229.30" y="862.74" width="16.10" height="2.79" rx="1.6" ry="1.2" fill="url(#bandg)" opacity="0.922"/>
<rect x="229.30" y="867.44" width="16.10" height="2.79" rx="1.6" ry="1.2" fill="url(#bandg)" opacity="0.902"/>
<rect x="249.40" y="862.74" width="16.10" height="2.79" rx="1.6" ry="1.2" fill="url(#bandg)" opacity="0.745"/>
<rect x="249.40" y="867.44" width="16.10" height="2.79" rx="1.6" ry="1.2" fill="url(#bandg)" opacity="0.804"/>
<rect x="269.50" y="862.74" width="16.10" height="2.79" rx="1.6" ry="1.2" fill="url(#bandg)" opacity="0.647"/>
<rect x="269.50" y="867.44" width="16.10" height="2.79" rx="1.6" ry="1.2" fill="url(#bandg)" opacity="0.765"/>
<rect x="289.60" y="862.74" width="16.10" height="2.79" rx="1.6" ry="1.2" fill="url(#bandg)" opacity="0.510"/>
<rect x="289.60" y="867.44" width="16.10" height="2.79" rx="1.6" ry="1.2" fill="url(#bandg)" opacity="0.882"/>
<rect x="309.70" y="862.74" width="16.10" height="2.79" rx="1.6" ry="1.2" fill="url(#bandg)" opacity="0.588"/>
<rect x="309.70" y="867.44" width="16.10" height="2.79" rx="1.6" ry="1.2" fill="url(#bandg)" opacity="0.843"/>
</g>
<line x1="335.60" y1="870.40" x2="342.00" y2="870.40" stroke="#000" stroke-width="1.7"/>
<defs><linearGradient id="rg5" gradientUnits="userSpaceOnUse" x1="0" y1="893.10" x2="0" y2="910.30"><stop offset="0.0058" stop-color="rgb(90,90,90)"/><stop offset="0.0465" stop-color="rgb(235,235,235)"/><stop offset="0.1919" stop-color="rgb(235,235,235)"/><stop offset="0.2442" stop-color="rgb(125,125,125)"/><stop offset="0.5930" stop-color="rgb(115,115,115)"/><stop offset="0.6453" stop-color="rgb(240,240,240)"/><stop offset="0.9128" stop-color="rgb(245,245,245)"/><stop offset="0.9767" stop-color="rgb(100,100,100)"/></linearGradient></defs>
<rect x="203.50" y="892.10" width="124.30" height="19.20" fill="#101010"/>
<g filter="url(#bl45)">
<rect x="204.90" y="893.10" width="17.62" height="17.20" rx="1.5" fill="url(#rg5)" opacity="1"/>
<rect x="204.90" y="893.10" width="17.62" height="17.20" rx="1.5" fill="url(#edgeg)" opacity="0.4"/>
<rect x="225.92" y="893.10" width="17.32" height="17.20" rx="1.5" fill="url(#rg5)" opacity="1"/>
<rect x="225.92" y="893.10" width="17.32" height="17.20" rx="1.5" fill="url(#edgeg)" opacity="0.4"/>
<rect x="246.63" y="893.10" width="17.32" height="17.20" rx="1.5" fill="url(#rg5)" opacity="1"/>
<rect x="246.63" y="893.10" width="17.32" height="17.20" rx="1.5" fill="url(#edgeg)" opacity="0.4"/>
<rect x="267.35" y="893.10" width="17.32" height="17.20" rx="1.5" fill="url(#rg5)" opacity="1"/>
<rect x="267.35" y="893.10" width="17.32" height="17.20" rx="1.5" fill="url(#edgeg)" opacity="0.4"/>
<rect x="288.07" y="893.10" width="17.32" height="17.20" rx="1.5" fill="url(#rg5)" opacity="1"/>
<rect x="288.07" y="893.10" width="17.32" height="17.20" rx="1.5" fill="url(#edgeg)" opacity="0.4"/>
<rect x="308.78" y="893.10" width="17.62" height="17.20" rx="1.5" fill="url(#rg5)" opacity="1"/>
<rect x="308.78" y="893.10" width="17.62" height="17.20" rx="1.5" fill="url(#edgeg)" opacity="0.4"/>
</g>
<line x1="336.00" y1="894.80" x2="342.30" y2="894.80" stroke="#000" stroke-width="1.7"/>
<line x1="335.60" y1="913.00" x2="342.30" y2="921.70" stroke="#000" stroke-width="1.8"/>
<line x1="219.00" y1="928.75" x2="219.00" y2="1128.60" stroke="#000" stroke-width="1.3"/>
<line x1="215.50" y1="1128.00" x2="323.50" y2="1128.00" stroke="#000" stroke-width="1.3"/>
<line x1="216.00" y1="1128.00" x2="219.00" y2="1128.00" stroke="#000" stroke-width="1.2"/>
<line x1="216.00" y1="1107.38" x2="219.00" y2="1107.38" stroke="#000" stroke-width="1.2"/>
<line x1="216.00" y1="1086.75" x2="219.00" y2="1086.75" stroke="#000" stroke-width="1.2"/>
<line x1="216.00" y1="1066.12" x2="219.00" y2="1066.12" stroke="#000" stroke-width="1.2"/>
<line x1="216.00" y1="1045.50" x2="219.00" y2="1045.50" stroke="#000" stroke-width="1.2"/>
<line x1="216.00" y1="1024.88" x2="219.00" y2="1024.88" stroke="#000" stroke-width="1.2"/>
<line x1="216.00" y1="1004.25" x2="219.00" y2="1004.25" stroke="#000" stroke-width="1.2"/>
<line x1="216.00" y1="983.62" x2="219.00" y2="983.62" stroke="#000" stroke-width="1.2"/>
<line x1="216.00" y1="963.00" x2="219.00" y2="963.00" stroke="#000" stroke-width="1.2"/>
<line x1="216.00" y1="942.38" x2="219.00" y2="942.38" stroke="#000" stroke-width="1.2"/>
<line x1="219.00" y1="1128.00" x2="219.00" y2="1132.30" stroke="#000" stroke-width="1.3"/>
<line x1="225.25" y1="1128.00" x2="225.25" y2="1130.80" stroke="#000" stroke-width="1.0"/>
<line x1="228.90" y1="1128.00" x2="228.90" y2="1130.80" stroke="#000" stroke-width="1.0"/>
<line x1="231.49" y1="1128.00" x2="231.49" y2="1130.80" stroke="#000" stroke-width="1.0"/>
<line x1="233.50" y1="1128.00" x2="233.50" y2="1130.80" stroke="#000" stroke-width="1.0"/>
<line x1="235.15" y1="1128.00" x2="235.15" y2="1130.80" stroke="#000" stroke-width="1.0"/>
<line x1="236.54" y1="1128.00" x2="236.54" y2="1130.80" stroke="#000" stroke-width="1.0"/>
<line x1="237.74" y1="1128.00" x2="237.74" y2="1130.80" stroke="#000" stroke-width="1.0"/>
<line x1="238.80" y1="1128.00" x2="238.80" y2="1130.80" stroke="#000" stroke-width="1.0"/>
<line x1="239.75" y1="1128.00" x2="239.75" y2="1132.30" stroke="#000" stroke-width="1.3"/>
<line x1="246.00" y1="1128.00" x2="246.00" y2="1130.80" stroke="#000" stroke-width="1.0"/>
<line x1="249.65" y1="1128.00" x2="249.65" y2="1130.80" stroke="#000" stroke-width="1.0"/>
<line x1="252.24" y1="1128.00" x2="252.24" y2="1130.80" stroke="#000" stroke-width="1.0"/>
<line x1="254.25" y1="1128.00" x2="254.25" y2="1130.80" stroke="#000" stroke-width="1.0"/>
<line x1="255.90" y1="1128.00" x2="255.90" y2="1130.80" stroke="#000" stroke-width="1.0"/>
<line x1="257.29" y1="1128.00" x2="257.29" y2="1130.80" stroke="#000" stroke-width="1.0"/>
<line x1="258.49" y1="1128.00" x2="258.49" y2="1130.80" stroke="#000" stroke-width="1.0"/>
<line x1="259.55" y1="1128.00" x2="259.55" y2="1130.80" stroke="#000" stroke-width="1.0"/>
<line x1="260.50" y1="1128.00" x2="260.50" y2="1132.30" stroke="#000" stroke-width="1.3"/>
<line x1="266.75" y1="1128.00" x2="266.75" y2="1130.80" stroke="#000" stroke-width="1.0"/>
<line x1="270.40" y1="1128.00" x2="270.40" y2="1130.80" stroke="#000" stroke-width="1.0"/>
<line x1="272.99" y1="1128.00" x2="272.99" y2="1130.80" stroke="#000" stroke-width="1.0"/>
<line x1="275.00" y1="1128.00" x2="275.00" y2="1130.80" stroke="#000" stroke-width="1.0"/>
<line x1="276.65" y1="1128.00" x2="276.65" y2="1130.80" stroke="#000" stroke-width="1.0"/>
<line x1="278.04" y1="1128.00" x2="278.04" y2="1130.80" stroke="#000" stroke-width="1.0"/>
<line x1="279.24" y1="1128.00" x2="279.24" y2="1130.80" stroke="#000" stroke-width="1.0"/>
<line x1="280.30" y1="1128.00" x2="280.30" y2="1130.80" stroke="#000" stroke-width="1.0"/>
<line x1="281.25" y1="1128.00" x2="281.25" y2="1132.30" stroke="#000" stroke-width="1.3"/>
<line x1="287.50" y1="1128.00" x2="287.50" y2="1130.80" stroke="#000" stroke-width="1.0"/>
<line x1="291.15" y1="1128.00" x2="291.15" y2="1130.80" stroke="#000" stroke-width="1.0"/>
<line x1="293.74" y1="1128.00" x2="293.74" y2="1130.80" stroke="#000" stroke-width="1.0"/>
<line x1="295.75" y1="1128.00" x2="295.75" y2="1130.80" stroke="#000" stroke-width="1.0"/>
<line x1="297.40" y1="1128.00" x2="297.40" y2="1130.80" stroke="#000" stroke-width="1.0"/>
<line x1="298.79" y1="1128.00" x2="298.79" y2="1130.80" stroke="#000" stroke-width="1.0"/>
<line x1="299.99" y1="1128.00" x2="299.99" y2="1130.80" stroke="#000" stroke-width="1.0"/>
<line x1="301.05" y1="1128.00" x2="301.05" y2="1130.80" stroke="#000" stroke-width="1.0"/>
<line x1="302.00" y1="1128.00" x2="302.00" y2="1132.30" stroke="#000" stroke-width="1.3"/>
<line x1="308.25" y1="1128.00" x2="308.25" y2="1130.80" stroke="#000" stroke-width="1.0"/>
<line x1="311.90" y1="1128.00" x2="311.90" y2="1130.80" stroke="#000" stroke-width="1.0"/>
<line x1="314.49" y1="1128.00" x2="314.49" y2="1130.80" stroke="#000" stroke-width="1.0"/>
<line x1="316.50" y1="1128.00" x2="316.50" y2="1130.80" stroke="#000" stroke-width="1.0"/>
<line x1="318.15" y1="1128.00" x2="318.15" y2="1130.80" stroke="#000" stroke-width="1.0"/>
<line x1="319.54" y1="1128.00" x2="319.54" y2="1130.80" stroke="#000" stroke-width="1.0"/>
<line x1="320.74" y1="1128.00" x2="320.74" y2="1130.80" stroke="#000" stroke-width="1.0"/>
<line x1="321.80" y1="1128.00" x2="321.80" y2="1130.80" stroke="#000" stroke-width="1.0"/>
<line x1="322.75" y1="1128.00" x2="322.75" y2="1132.30" stroke="#000" stroke-width="1.3"/>
<polyline fill="none" stroke="#000" stroke-width="1.4" stroke-linejoin="round" points="219.00,962.50 233.75,1012.50 254.50,1004.25 275.50,1057.00 296.00,1093.00 316.50,1085.00"/>
<polyline fill="none" stroke="#000" stroke-width="1.4" stroke-linejoin="round" points="219.00,962.50 233.75,946.50 254.00,997.50 275.00,1092.50 295.25,1103.75 316.00,1103.75"/>
<path d="M219.00,959.40 L222.30,966.20 L215.70,966.20 Z" fill="#fff" stroke="#000" stroke-width="1.4" stroke-linejoin="miter"/>
<path d="M233.75,943.40 L237.05,950.20 L230.45,950.20 Z" fill="#fff" stroke="#000" stroke-width="1.4" stroke-linejoin="miter"/>
<path d="M254.00,994.40 L257.30,1001.20 L250.70,1001.20 Z" fill="#fff" stroke="#000" stroke-width="1.4" stroke-linejoin="miter"/>
<path d="M275.00,1089.40 L278.30,1096.20 L271.70,1096.20 Z" fill="#fff" stroke="#000" stroke-width="1.4" stroke-linejoin="miter"/>
<path d="M295.25,1100.65 L298.55,1107.45 L291.95,1107.45 Z" fill="#fff" stroke="#000" stroke-width="1.4" stroke-linejoin="miter"/>
<path d="M316.00,1100.65 L319.30,1107.45 L312.70,1107.45 Z" fill="#fff" stroke="#000" stroke-width="1.4" stroke-linejoin="miter"/>
<rect x="215.10" y="958.60" width="7.8" height="7.8" fill="#000"/>
<rect x="229.85" y="1008.60" width="7.8" height="7.8" fill="#000"/>
<rect x="250.60" y="1000.35" width="7.8" height="7.8" fill="#000"/>
<rect x="271.60" y="1053.10" width="7.8" height="7.8" fill="#000"/>
<rect x="292.10" y="1089.10" width="7.8" height="7.8" fill="#000"/>
<rect x="312.60" y="1081.10" width="7.8" height="7.8" fill="#000"/>
<text font-size="25.173" font-weight="bold" stroke-width="0.494" transform="matrix(1.0112 0 0 1 18.102 18.500)">A</text>
<text font-size="15.333" font-weight="bold" stroke-width="0.491" transform="matrix(1.0189 0 0 1 6.524 37.260)">Daudi</text>
<text font-size="14.843" font-weight="normal" stroke-width="0.337" transform="matrix(1.1858 0 0 1 29.700 59.600)">h</text>
<text font-size="13.796" font-weight="normal" stroke-width="0.338" transform="matrix(1.1668 0 0 1 75.648 58.800)">4</text>
<text font-size="13.938" font-weight="normal" stroke-width="0.361" transform="matrix(1.1032 0 0 1 105.779 58.900)">24</text>
<text font-size="13.774" font-weight="normal" stroke-width="0.349" transform="matrix(1.1274 0 0 1 141.057 58.685)">48</text>
<text font-size="13.774" font-weight="normal" stroke-width="0.337" transform="matrix(1.1688 0 0 1 174.645 58.685)">96</text>
<text font-size="14.887" font-weight="normal" stroke-width="0.374" transform="matrix(1.0706 0 0 1 15.955 77.667)">IFN-α</text>
<text font-size="13.753" font-weight="normal" stroke-width="0.379" transform="matrix(1.0376 0 0 1 3.108 96.200)">hTERT</text>
<text font-size="15.096" font-weight="normal" stroke-width="0.418" transform="matrix(0.9565 0 0 1 235.323 105.364)">C</text>
<text font-size="14.222" font-weight="normal" stroke-width="0.401" transform="matrix(0.9970 0 0 1 13.092 130.000)">RNA</text>
<text font-size="13.565" font-weight="normal" stroke-width="0.387" transform="matrix(1.0014 0 0 1 228.901 132.038)">18S</text>
<text font-size="13.009" font-weight="normal" stroke-width="0.348" transform="matrix(1.0687 0 0 1 228.348 160.397)">28S</text>
<text font-size="1000" font-weight="normal" stroke-width="25.000" transform="matrix(0 -0.012682 0.012000 0 19.812 311.396)">% of Control Cells</text>
<text font-size="9.461" font-weight="normal" stroke-width="0.277" transform="matrix(0.9761 0 0 1 26.023 167.052)">100</text>
<text font-size="9.878" font-weight="normal" stroke-width="0.301" transform="matrix(0.9383 0 0 1 37.066 216.046)">75</text>
<text font-size="9.878" font-weight="normal" stroke-width="0.273" transform="matrix(1.0352 0 0 1 36.380 265.746)">50</text>
<text font-size="9.461" font-weight="normal" stroke-width="0.243" transform="matrix(1.1138 0 0 1 36.206 314.252)">25</text>
<text font-size="9.461" font-weight="normal" stroke-width="0.246" transform="matrix(1.0993 0 0 1 47.375 362.352)">0</text>
<text font-size="9.043" font-weight="normal" stroke-width="0.234" transform="matrix(1.1058 0 0 1 67.487 375.259)">0</text>
<text font-size="9.244" font-weight="normal" stroke-width="0.252" transform="matrix(1.0500 0 0 1 93.845 375.400)">24</text>
<text font-size="9.043" font-weight="normal" stroke-width="0.231" transform="matrix(1.1203 0 0 1 123.142 375.259)">48</text>
<text font-size="9.244" font-weight="normal" stroke-width="0.261" transform="matrix(1.0132 0 0 1 151.861 375.400)">72</text>
<text font-size="9.043" font-weight="normal" stroke-width="0.230" transform="matrix(1.1221 0 0 1 180.824 375.259)">96</text>
<text font-size="12.590" font-weight="normal" stroke-width="0.353" transform="matrix(1.0200 0 0 1 68.397 390.246)">IFN-α Treatment (h)</text>
<text font-size="15.304" font-weight="bold" stroke-width="0.497" transform="matrix(1.0060 0 0 1 282.378 38.061)">U266</text>
<text font-size="15.251" font-weight="normal" stroke-width="0.347" transform="matrix(1.1540 0 0 1 299.900 58.100)">h</text>
<text font-size="14.507" font-weight="normal" stroke-width="0.389" transform="matrix(1.0294 0 0 1 356.467 57.400)">4</text>
<text font-size="14.649" font-weight="normal" stroke-width="0.370" transform="matrix(1.0825 0 0 1 395.657 57.300)">24</text>
<text font-size="14.330" font-weight="normal" stroke-width="0.369" transform="matrix(1.0836 0 0 1 435.157 57.076)">48</text>
<text font-size="16.000" font-weight="normal" stroke-width="0.393" transform="matrix(1.0167 0 0 1 292.729 82.750)">IFN-α</text>
<text font-size="14.298" font-weight="normal" stroke-width="0.405" transform="matrix(0.9867 0 0 1 280.418 101.700)">hTERT</text>
<text font-size="14.052" font-weight="normal" stroke-width="0.391" transform="matrix(1.0220 0 0 1 491.627 110.680)">C</text>
<text font-size="13.938" font-weight="normal" stroke-width="0.393" transform="matrix(1.0139 0 0 1 297.896 133.900)">RNA</text>
<text font-size="13.357" font-weight="normal" stroke-width="0.376" transform="matrix(1.0148 0 0 1 483.953 129.991)">18S</text>
<text font-size="13.357" font-weight="normal" stroke-width="0.361" transform="matrix(1.0585 0 0 1 482.937 154.191)">28S</text>
<text font-size="1000" font-weight="normal" stroke-width="22.500" transform="matrix(0 -0.012682 0.013333 0 304.092 312.096)">% of Control Cells</text>
<text font-size="9.739" font-weight="normal" stroke-width="0.286" transform="matrix(0.9741 0 0 1 308.407 199.248)">100</text>
<text font-size="9.600" font-weight="normal" stroke-width="0.273" transform="matrix(1.0062 0 0 1 318.247 238.450)">75</text>
<text font-size="9.461" font-weight="normal" stroke-width="0.270" transform="matrix(1.0008 0 0 1 318.404 277.452)">50</text>
<text font-size="9.322" font-weight="normal" stroke-width="0.254" transform="matrix(1.0467 0 0 1 318.243 316.554)">25</text>
<text font-size="9.461" font-weight="normal" stroke-width="0.246" transform="matrix(1.0993 0 0 1 327.775 355.852)">0</text>
<text font-size="9.878" font-weight="normal" stroke-width="0.284" transform="matrix(0.9921 0 0 1 346.494 368.846)">0</text>
<text font-size="10.098" font-weight="normal" stroke-width="0.294" transform="matrix(0.9803 0 0 1 401.536 369.000)">24</text>
<text font-size="9.878" font-weight="normal" stroke-width="0.289" transform="matrix(0.9777 0 0 1 458.449 368.846)">48</text>
<text font-size="12.590" font-weight="normal" stroke-width="0.355" transform="matrix(1.0123 0 0 1 349.504 386.246)">IFN-α Treatment (h)</text>
<text font-size="13.913" font-weight="bold" stroke-width="0.457" transform="matrix(1.0863 0 0 1 10.655 415.083)">P3HR1</text>
<text font-size="15.387" font-weight="normal" stroke-width="0.359" transform="matrix(1.1141 0 0 1 33.029 433.500)">h</text>
<text font-size="14.222" font-weight="normal" stroke-width="0.376" transform="matrix(1.0636 0 0 1 77.464 433.600)">4</text>
<text font-size="14.649" font-weight="normal" stroke-width="0.367" transform="matrix(1.0891 0 0 1 107.952 433.700)">24</text>
<text font-size="14.330" font-weight="normal" stroke-width="0.371" transform="matrix(1.0770 0 0 1 147.459 433.476)">48</text>
<text font-size="14.330" font-weight="normal" stroke-width="0.354" transform="matrix(1.1302 0 0 1 181.641 433.476)">96</text>
<text font-size="14.748" font-weight="normal" stroke-width="0.373" transform="matrix(1.0723 0 0 1 16.165 458.570)">IFN-α</text>
<text font-size="13.617" font-weight="normal" stroke-width="0.379" transform="matrix(1.0264 0 0 1 9.626 475.600)">hTERT</text>
<text font-size="13.774" font-weight="normal" stroke-width="0.386" transform="matrix(1.0200 0 0 1 235.341 484.185)">C</text>
<text font-size="13.938" font-weight="normal" stroke-width="0.400" transform="matrix(0.9963 0 0 1 18.715 514.200)">RNA</text>
<text font-size="13.496" font-weight="normal" stroke-width="0.369" transform="matrix(1.0441 0 0 1 227.419 509.989)">18S</text>
<text font-size="13.635" font-weight="normal" stroke-width="0.371" transform="matrix(1.0500 0 0 1 227.029 536.287)">28S</text>
<text font-size="1000" font-weight="normal" stroke-width="21.845" transform="matrix(0 -0.012669 0.013733 0 29.485 700.896)">% of Control Cells</text>
<text font-size="9.461" font-weight="normal" stroke-width="0.275" transform="matrix(0.9827 0 0 1 32.219 570.452)">100</text>
<text font-size="9.322" font-weight="normal" stroke-width="0.245" transform="matrix(1.0886 0 0 1 41.824 611.354)">75</text>
<text font-size="9.322" font-weight="normal" stroke-width="0.252" transform="matrix(1.0564 0 0 1 41.992 650.554)">50</text>
<text font-size="9.600" font-weight="normal" stroke-width="0.245" transform="matrix(1.1180 0 0 1 41.497 691.850)">25</text>
<text font-size="8.904" font-weight="normal" stroke-width="0.227" transform="matrix(1.1230 0 0 1 51.688 731.861)">0</text>
<text font-size="9.600" font-weight="normal" stroke-width="0.277" transform="matrix(0.9896 0 0 1 70.453 746.850)">0</text>
<text font-size="9.813" font-weight="normal" stroke-width="0.273" transform="matrix(1.0283 0 0 1 96.527 747.000)">24</text>
<text font-size="9.600" font-weight="normal" stroke-width="0.278" transform="matrix(0.9863 0 0 1 125.602 746.850)">48</text>
<text font-size="9.813" font-weight="normal" stroke-width="0.282" transform="matrix(0.9943 0 0 1 154.043 747.000)">72</text>
<text font-size="9.600" font-weight="normal" stroke-width="0.257" transform="matrix(1.0672 0 0 1 181.520 746.850)">96</text>
<text font-size="12.066" font-weight="normal" stroke-width="0.326" transform="matrix(1.0563 0 0 1 74.504 774.361)">IFN-α Treatment (h)</text>
<text font-size="14.748" font-weight="bold" stroke-width="0.472" transform="matrix(1.0590 0 0 1 292.124 410.170)">H9</text>
<text font-size="15.796" font-weight="normal" stroke-width="0.379" transform="matrix(1.0563 0 0 1 300.157 425.400)">h</text>
<text font-size="14.364" font-weight="normal" stroke-width="0.385" transform="matrix(1.0396 0 0 1 356.667 425.400)">4</text>
<text font-size="14.933" font-weight="normal" stroke-width="0.386" transform="matrix(1.0361 0 0 1 396.075 425.500)">24</text>
<text font-size="14.609" font-weight="normal" stroke-width="0.376" transform="matrix(1.0629 0 0 1 439.757 425.272)">48</text>
<text font-size="16.139" font-weight="normal" stroke-width="0.397" transform="matrix(1.0079 0 0 1 292.729 453.848)">IFN-α</text>
<text font-size="14.298" font-weight="normal" stroke-width="0.405" transform="matrix(0.9867 0 0 1 280.418 472.000)">hTERT</text>
<text font-size="12.800" font-weight="normal" stroke-width="0.345" transform="matrix(1.0610 0 0 1 498.563 474.800)">C</text>
<text font-size="14.222" font-weight="normal" stroke-width="0.407" transform="matrix(0.9832 0 0 1 304.808 509.900)">RNA</text>
<text font-size="12.939" font-weight="normal" stroke-width="0.342" transform="matrix(1.0798 0 0 1 490.527 501.598)">18S</text>
<text font-size="12.939" font-weight="normal" stroke-width="0.338" transform="matrix(1.0927 0 0 1 490.237 527.298)">28S</text>
<text font-size="1000" font-weight="normal" stroke-width="22.059" transform="matrix(0 -0.012569 0.013600 0 313.388 701.193)">% of Control Cells</text>
<text font-size="9.600" font-weight="normal" stroke-width="0.278" transform="matrix(0.9883 0 0 1 315.407 549.350)">100</text>
<text font-size="9.600" font-weight="normal" stroke-width="0.262" transform="matrix(1.0468 0 0 1 326.529 597.450)">75</text>
<text font-size="9.600" font-weight="normal" stroke-width="0.253" transform="matrix(1.0849 0 0 1 325.675 646.150)">50</text>
<text font-size="9.948" font-weight="normal" stroke-width="0.276" transform="matrix(1.0299 0 0 1 326.520 695.345)">25</text>
<text font-size="9.461" font-weight="normal" stroke-width="0.272" transform="matrix(0.9936 0 0 1 338.006 742.652)">0</text>
<text font-size="9.600" font-weight="normal" stroke-width="0.253" transform="matrix(1.0833 0 0 1 358.175 756.850)">0</text>
<text font-size="9.813" font-weight="normal" stroke-width="0.273" transform="matrix(1.0283 0 0 1 413.527 757.000)">24</text>
<text font-size="9.600" font-weight="normal" stroke-width="0.265" transform="matrix(1.0356 0 0 1 471.845 756.850)">48</text>
<text font-size="11.541" font-weight="normal" stroke-width="0.299" transform="matrix(1.1018 0 0 1 361.007 778.975)">IFN-α Treatment (h)</text>
<text font-size="21.902" font-weight="bold" stroke-width="0.430" transform="matrix(1.1615 0 0 1 152.110 824.900)">B</text>
<text font-size="14.479" font-weight="normal" stroke-width="0.363" transform="matrix(1.1024 0 0 1 217.653 815.833)">IFN-α (U, 5x)</text>
<text font-size="10.098" font-weight="normal" stroke-width="0.251" transform="matrix(1.1510 0 0 1 242.137 841.200)">-1</text>
<text font-size="9.878" font-weight="normal" stroke-width="0.253" transform="matrix(1.1136 0 0 1 264.156 841.046)">0</text>
<text font-size="10.098" font-weight="normal" stroke-width="0.293" transform="matrix(0.9835 0 0 1 284.879 841.200)">1</text>
<text font-size="10.098" font-weight="normal" stroke-width="0.248" transform="matrix(1.1620 0 0 1 306.450 841.200)">2</text>
<text font-size="9.878" font-weight="normal" stroke-width="0.216" transform="matrix(1.3062 0 0 1 327.097 841.046)">3</text>
<text font-size="13.357" font-weight="normal" stroke-width="0.359" transform="matrix(1.0632 0 0 1 215.356 853.791)">0</text>
<text font-size="13.217" font-weight="normal" stroke-width="0.341" transform="matrix(1.1073 0 0 1 231.585 854.293)">10</text>
<text font-size="13.217" font-weight="normal" stroke-width="0.325" transform="matrix(1.1627 0 0 1 250.290 854.293)">10</text>
<text font-size="13.217" font-weight="normal" stroke-width="0.341" transform="matrix(1.1073 0 0 1 270.335 854.293)">10</text>
<text font-size="13.217" font-weight="normal" stroke-width="0.341" transform="matrix(1.1073 0 0 1 294.585 854.293)">10</text>
<text font-size="13.217" font-weight="normal" stroke-width="0.353" transform="matrix(1.0704 0 0 1 314.116 854.293)">10</text>
<text font-size="14.026" font-weight="normal" stroke-width="0.394" transform="matrix(1.0151 0 0 1 146.510 868.600)">hTERT</text>
<text font-size="14.609" font-weight="normal" stroke-width="0.371" transform="matrix(1.0792 0 0 1 352.161 876.272)">C</text>
<text font-size="13.938" font-weight="normal" stroke-width="0.397" transform="matrix(1.0033 0 0 1 152.408 911.600)">RNA</text>
<text font-size="13.913" font-weight="normal" stroke-width="0.392" transform="matrix(1.0128 0 0 1 350.119 901.783)">18S</text>
<text font-size="13.913" font-weight="normal" stroke-width="0.383" transform="matrix(1.0375 0 0 1 350.323 930.583)">28S</text>
<text font-size="1000" font-weight="bold" stroke-width="33.088" transform="matrix(0 -0.010988 0.011333 0 176.323 1081.172)">% of Control Cells</text>
<text font-size="9.878" font-weight="normal" stroke-width="0.290" transform="matrix(0.9732 0 0 1 179.399 966.946)">100</text>
<text font-size="9.600" font-weight="normal" stroke-width="0.281" transform="matrix(0.9757 0 0 1 189.361 1007.850)">75</text>
<text font-size="9.600" font-weight="normal" stroke-width="0.259" transform="matrix(1.0603 0 0 1 188.432 1048.750)">50</text>
<text font-size="9.948" font-weight="normal" stroke-width="0.270" transform="matrix(1.0544 0 0 1 188.258 1091.095)">25</text>
<text font-size="9.600" font-weight="normal" stroke-width="0.239" transform="matrix(1.1458 0 0 1 197.906 1132.350)">0</text>
<text font-size="8.487" font-weight="normal" stroke-width="0.229" transform="matrix(1.0577 0 0 1 212.739 1145.467)">10</text>
<text font-size="7.253" font-weight="normal" stroke-width="0.201" transform="matrix(1.0289 0 0 1 223.567 1141.500)">-1</text>
<text font-size="8.487" font-weight="normal" stroke-width="0.232" transform="matrix(1.0462 0 0 1 233.745 1145.467)">10</text>
<text font-size="7.096" font-weight="normal" stroke-width="0.189" transform="matrix(1.0711 0 0 1 243.762 1141.389)">0</text>
<text font-size="8.487" font-weight="normal" stroke-width="0.224" transform="matrix(1.0807 0 0 1 254.927 1145.467)">10</text>
<text font-size="7.253" font-weight="normal" stroke-width="0.272" transform="matrix(0.7606 0 0 1 265.455 1141.500)">1</text>
<text font-size="8.487" font-weight="normal" stroke-width="0.217" transform="matrix(1.1152 0 0 1 274.908 1145.467)">10</text>
<text font-size="7.253" font-weight="normal" stroke-width="0.176" transform="matrix(1.1765 0 0 1 285.500 1141.500)">2</text>
<text font-size="8.487" font-weight="normal" stroke-width="0.240" transform="matrix(1.0117 0 0 1 296.063 1145.467)">10</text>
<text font-size="7.096" font-weight="normal" stroke-width="0.170" transform="matrix(1.1929 0 0 1 306.435 1141.389)">3</text>
<text font-size="8.487" font-weight="normal" stroke-width="0.224" transform="matrix(1.0807 0 0 1 316.927 1145.467)">10</text>
<text font-size="7.253" font-weight="normal" stroke-width="0.194" transform="matrix(1.0695 0 0 1 327.479 1141.500)">4</text>
<text font-size="10.807" font-weight="normal" stroke-width="0.265" transform="matrix(1.1629 0 0 1 243.318 1166.736)">IFN-α (U)</text>
</g>
</svg>
</body></html>
